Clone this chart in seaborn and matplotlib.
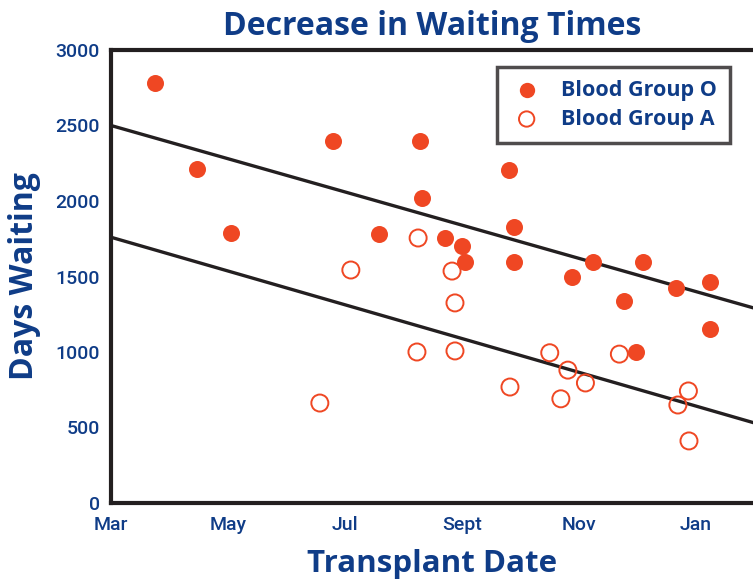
#!/bin/python

# Libraries
import seaborn as sns
import pandas as pd
import matplotlib
matplotlib.use('Agg')
from matplotlib import pyplot as plt

# Data (x = months since March)
o_month = [0.75, 1.47, 2.05, 3.79, 4.58, 5.28, 5.32, 5.71, 6.00, 6.05, 6.80,
           6.89, 6.89, 7.88, 8.24, 8.77, 9.09, 8.97, 9.66, 10.24, 10.24]
o_days = [2780, 2210, 1790, 2400, 1780, 2400, 2020, 1755, 1700, 1596, 2205,
          1830, 1596, 1497, 1596, 1338, 1596, 1000, 1424, 1464, 1152]

a_month = [3.57, 4.10, 5.25, 5.23, 5.83, 5.88, 5.88, 6.82, 7.50, 7.69, 7.81,
           8.11, 8.69, 9.69, 9.87, 9.88]
a_days = [662, 1543, 1755, 1000, 1536, 1325, 1007, 768, 995, 690, 880,
          795, 986, 649, 742, 411]

# trend lines (end points)
fit_x = [0, 11]
fit_o = [2500, 1290]
fit_a = [1760, 530]

tick_pos = [0, 2, 4, 6, 8, 10]
tick_lab = ['Mar', 'May', 'Jul', 'Sept', 'Nov', 'Jan']

navy = '#0f3c87'
red = '#ef4723'
dark = '#231f20'

df_o = pd.DataFrame({'month': o_month, 'days': o_days})
df_a = pd.DataFrame({'month': a_month, 'days': a_days})

sns.set_style('white')
plt.rcParams['font.family'] = ['Open Sans', 'DejaVu Sans']

fig = plt.figure(figsize=(7.53, 5.82), dpi=100)
ax = fig.add_axes([111 / 753, 79 / 582, 642 / 753, 453 / 582])

sns.lineplot(x=fit_x, y=fit_o, color=dark, lw=2.4, ax=ax)
sns.lineplot(x=fit_x, y=fit_a, color=dark, lw=2.4, ax=ax)
sns.scatterplot(data=df_o, x='month', y='days', color=red, s=150, linewidth=0,
                ax=ax, label='Blood Group O', zorder=3)
sns.scatterplot(data=df_a, x='month', y='days', facecolors='none', edgecolor=red,
                s=150, linewidth=1.4, ax=ax, label='Blood Group A', zorder=3)

ax.set_xlim(0, 642 / 58.5)
ax.set_ylim(0, 3000)
ax.set_xticks(tick_pos)
ax.set_xticklabels(tick_lab)
ax.set_yticks([0, 500, 1000, 1500, 2000, 2500, 3000])

for lab in ax.get_xticklabels() + ax.get_yticklabels():
    lab.set_fontfamily(['Roboto', 'DejaVu Sans'])
    lab.set_fontsize(14)
    lab.set_fontweight('medium')
    lab.set_color(navy)

ax.tick_params(axis='both', direction='out', length=6, width=3, color=dark, pad=2)
ax.tick_params(axis='x', pad=3)

for side in ['left', 'bottom', 'top']:
    ax.spines[side].set_linewidth(3)
    ax.spines[side].set_color(dark)
ax.spines['right'].set_visible(False)

ax.set_title('Decrease in Waiting Times', fontsize=23, fontweight='bold',
             color=navy, pad=11)
ax.set_xlabel('Transplant Date', fontsize=22.5, fontweight='bold', color=navy, labelpad=11)
ax.set_ylabel('Days Waiting', fontsize=23, fontweight='bold', color=navy, labelpad=10)

leg = ax.legend(loc='upper right', bbox_to_anchor=(0.964, 0.962), frameon=True,
                fancybox=False, fontsize=15.5, handletextpad=0.8, borderpad=0.6,
                labelspacing=0.35, markerscale=0.9, borderaxespad=0,
                handlelength=1.6)
leg.get_frame().set_edgecolor(dark)
leg.get_frame().set_linewidth(2.5)
for t in leg.get_texts():
    t.set_color(navy)
    t.set_fontweight('bold')

# Export
fig.savefig('out.png', dpi=100)
